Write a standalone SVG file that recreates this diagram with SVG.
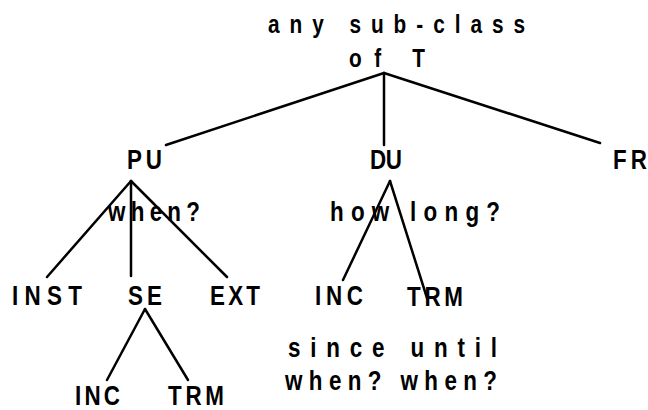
<svg xmlns="http://www.w3.org/2000/svg" width="648" height="410" viewBox="0 0 648 410">
<style>
text{font-family:"Liberation Sans",Arial,sans-serif;font-weight:bold;fill:#000}
.b{font-size:28px}
.t{font-size:26px}
line{stroke:#000;stroke-width:2.5;stroke-linecap:round}
</style>
<rect width="648" height="410" fill="#fff"/>
<g id="connectors">
<line x1="384" y1="73" x2="166" y2="145"/>
<line x1="384" y1="73" x2="384" y2="145"/>
<line x1="384" y1="73" x2="600" y2="143"/>
<line x1="131" y1="181" x2="47" y2="277"/>
<line x1="131" y1="181" x2="131" y2="276"/>
<line x1="131" y1="181" x2="227" y2="277"/>
<line x1="145" y1="309" x2="107" y2="380"/>
<line x1="145" y1="309" x2="188" y2="380"/>
<line x1="390" y1="181" x2="343" y2="280"/>
<line x1="390" y1="181" x2="427" y2="298"/>
</g>
<g id="root">
<text class="t" transform="translate(268,33) scale(0.8,1)" textLength="321.3" lengthAdjust="spacing">any sub-class</text>
<text class="t" transform="translate(349,67) scale(0.8,1)" textLength="95" lengthAdjust="spacing">of T</text>
</g>
<g id="PU"><text class="b" transform="translate(127,169) scale(0.8,1)" textLength="43.75" lengthAdjust="spacing">PU</text></g>
<g id="DU"><text class="b" transform="translate(370,169) scale(0.8,1)" textLength="40" lengthAdjust="spacing">DU</text></g>
<g id="FR"><text class="b" transform="translate(613,169) scale(0.8,1)" textLength="42.5" lengthAdjust="spacing">FR</text></g>
<g id="label-when"><text class="b" transform="translate(108,221) scale(0.8,1)" textLength="115" lengthAdjust="spacing">when?</text></g>
<g id="label-howlong"><text class="b" transform="translate(330,221) scale(0.8,1)" textLength="212.5" lengthAdjust="spacing">how long?</text></g>
<g id="INST"><text class="b" transform="translate(12,305) scale(0.8,1)" textLength="87.5" lengthAdjust="spacing">INST</text></g>
<g id="SE"><text class="b" transform="translate(128,305) scale(0.8,1)" textLength="42.5" lengthAdjust="spacing">SE</text></g>
<g id="EXT"><text class="b" transform="translate(210,305) scale(0.8,1)" textLength="62.5" lengthAdjust="spacing">EXT</text></g>
<g id="INC-DU"><text class="b" transform="translate(315,305) scale(0.8,1)" textLength="60" lengthAdjust="spacing">INC</text></g>
<g id="TRM-DU"><text class="b" transform="translate(407,306) scale(0.8,1)" textLength="70" lengthAdjust="spacing">TRM</text></g>
<g id="label-since-until">
<text class="b" transform="translate(288,357) scale(0.8,1)" textLength="261.3" lengthAdjust="spacing">since until</text>
<text class="b" transform="translate(285,390) scale(0.8,1)" textLength="265" lengthAdjust="spacing">when? when?</text>
</g>
<g id="INC-SE"><text class="b" transform="translate(75,405) scale(0.8,1)" textLength="56.25" lengthAdjust="spacing">INC</text></g>
<g id="TRM-SE"><text class="b" transform="translate(168,405) scale(0.8,1)" textLength="70" lengthAdjust="spacing">TRM</text></g>
</svg>
